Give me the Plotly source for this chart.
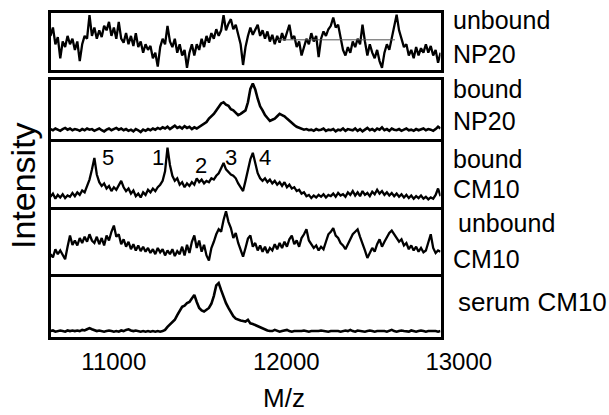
import numpy as np
import plotly.graph_objects as go

# ---------------- data (intensities, 0-100 per panel) ----------------
MZ_START = 10633
MZ_END = 12894

unbound_np20 = [60, 75, 45, 58, 20, 50, 40, 60, 45, 55, 35, 50, 15, 45, 60, 55, 97, 60, 75, 55,
                70, 58, 78, 70, 85, 60, 75, 55, 85, 55, 48, 65, 45, 60, 42, 65, 40, 50, 30, 45,
                35, 42, 20, 30, 5, 40, 55, 45, 78, 50, 40, 55, 30, 45, 25, 35, 3, 30, 45, 25,
                45, 35, 55, 40, 60, 48, 65, 55, 72, 60, 70, 97, 70, 82, 90, 72, 80, 62, 45, 8,
                40, 60, 75, 62, 72, 80, 60, 70, 55, 68, 50, 62, 45, 60, 48, 65, 52, 68, 80, 55,
                60, 40, 50, 25, 40, 55, 45, 65, 50, 60, 22, 55, 68, 60, 72, 78, 93, 75, 80, 55,
                35, 25, 40, 30, 50, 40, 55, 45, 80, 50, 25, 45, 30, 20, 35, 15, 3, 30, 45, 35,
                55, 80, 98, 70, 55, 40, 45, 25, 35, 20, 40, 25, 38, 30, 45, 30, 42, 25, 35, 12, 30]

bound_np20 = [16, 14, 17, 15, 13, 16, 18, 15, 17, 14, 16, 15, 13, 16, 14, 17, 15, 16, 13, 15,
              17, 14, 12, 15, 17, 14, 16, 18, 15, 17, 14, 16, 13, 15, 12, 16, 14, 11, 15, 13,
              16, 14, 17, 15, 18, 16, 19, 17, 20, 16, 19, 22, 18, 20, 17, 21, 18, 20, 16, 19,
              17, 20, 22, 26, 28, 34, 38, 42, 48, 54, 60, 62, 58, 56, 50, 48, 44, 40, 42, 45,
              48, 62, 85, 94, 84, 68, 55, 48, 40, 35, 30, 32, 34, 38, 42, 40, 38, 34, 30, 27,
              23, 20, 18, 16, 15, 16, 14, 15, 13, 16, 14, 15, 17, 13, 15, 14, 16, 12, 15, 14,
              17, 13, 16, 15, 14, 17, 13, 16, 12, 15, 18, 14, 16, 13, 17, 15, 19, 14, 16, 13,
              17, 15, 14, 16, 13, 15, 17, 14, 15, 13, 16, 14, 15, 17, 14, 16, 15, 13, 16, 20, 17]

bound_cm10 = [15, 20, 12, 18, 14, 19, 13, 17, 15, 21, 16, 22, 18, 25, 22, 32, 42, 58, 76, 50,
              38, 32, 36, 28, 32, 24, 30, 26, 34, 40, 30, 24, 28, 20, 25, 16, 20, 14, 22, 18,
              26, 22, 28, 24, 30, 34, 40, 55, 92, 65, 48, 40, 44, 34, 38, 30, 36, 32, 38, 34,
              44, 38, 42, 36, 40, 38, 44, 42, 48, 52, 60, 68, 58, 54, 50, 48, 44, 36, 30, 24,
              40, 58, 74, 84, 70, 52, 44, 40, 44, 38, 42, 36, 40, 34, 38, 32, 38, 30, 34, 28,
              30, 24, 26, 20, 22, 16, 18, 13, 17, 14, 18, 15, 19, 14, 18, 16, 20, 15, 21, 17,
              19, 15, 22, 18, 24, 17, 22, 16, 24, 18, 21, 16, 23, 19, 26, 20, 24, 18, 22, 17,
              21, 16, 20, 15, 19, 14, 18, 13, 17, 12, 16, 13, 17, 12, 15, 11, 14, 12, 18, 28, 16]

unbound_cm10 = [30, 25, 38, 30, 36, 28, 22, 42, 60, 45, 52, 44, 56, 48, 58, 50, 62, 52, 48, 58,
                46, 56, 44, 60, 52, 66, 76, 58, 62, 46, 54, 42, 50, 38, 46, 36, 44, 35, 42, 34,
                40, 32, 38, 30, 40, 33, 38, 28, 36, 30, 38, 27, 35, 30, 42, 28, 45, 32, 50, 60,
                40, 52, 34, 45, 28, 20, 40, 50, 62, 70, 66, 85, 99, 82, 72, 56, 64, 48, 36, 26,
                40, 55, 60, 42, 48, 36, 44, 34, 42, 32, 40, 36, 46, 38, 48, 40, 50, 42, 54, 60,
                46, 52, 42, 56, 62, 70, 52, 46, 40, 44, 36, 42, 38, 50, 62, 66, 72, 60, 56, 48,
                44, 38, 46, 56, 62, 66, 70, 58, 48, 36, 24, 32, 40, 34, 46, 54, 42, 50, 58, 64,
                68, 62, 56, 50, 54, 44, 48, 38, 44, 36, 42, 34, 40, 33, 36, 48, 62, 40, 32, 36, 34]

serum_cm10 = [9, 10, 8, 9, 10, 9, 8, 10, 9, 10, 9, 10, 9, 11, 10, 12, 14, 12, 10, 9,
              10, 9, 8, 9, 10, 9, 8, 9, 8, 10, 9, 11, 12, 10, 9, 10, 9, 8, 9, 8,
              9, 8, 9, 8, 9, 8, 9, 11, 16, 20, 24, 28, 36, 44, 50, 52, 56, 58, 64, 70,
              58, 48, 44, 42, 45, 48, 55, 68, 86, 90, 78, 66, 56, 48, 40, 34, 30, 28, 27, 26,
              25, 28, 22, 21, 19, 17, 15, 14, 12, 10, 9, 9, 11, 9, 8, 9, 10, 11, 9, 8,
              9, 9, 8, 9, 10, 9, 8, 9, 9, 8, 9, 10, 9, 9, 8, 9, 9, 10, 9, 8,
              9, 10, 9, 11, 9, 8, 10, 9, 9, 8, 9, 10, 9, 8, 9, 9, 10, 9, 8, 9,
              11, 9, 8, 9, 10, 9, 9, 8, 10, 9, 8, 9, 10, 9, 8, 9, 9, 10, 9, 8, 9]

panel_series = [unbound_np20, bound_np20, bound_cm10, unbound_cm10, serum_cm10]
panel_labels = [["unbound", "NP20"], ["bound", "NP20"], ["bound", "CM10"],
                ["unbound", "CM10"], ["serum CM10"]]
peak_names = ["5", "1", "2", "3", "4"]
peak_mz = [10966, 11256, 11506, 11679, 11876]
tick_values = [11000, 12000, 13000]
tick_text = ["11000", "12000", "13000"]

# ---------------- layout geometry (pixels) ----------------
W, H = 609, 415
X0, X1 = 50.5, 440.5
panels_px = [(13, 70), (79.5, 139), (142, 207), (210, 273.5), (276.5, 337)]
FONT = "Liberation Sans, Arial, sans-serif"
LW = 2.6


def px_x(p):
    return p / W


def px_y(p):
    return 1 - p / H


fig = go.Figure()
line_widths = [2.3, 2.6, 2.3, 2.3, 2.6]
for k, vals in enumerate(panel_series, start=1):
    mz = np.linspace(MZ_START, MZ_END, len(vals))
    fig.add_trace(go.Scatter(x=mz, y=vals, mode="lines",
                             line=dict(color="black", width=line_widths[k - 1]),
                             xaxis=f"x{k}", yaxis=f"y{k}", showlegend=False,
                             hoverinfo="skip"))

# invisible trace carrying the shared tick axis
fig.add_trace(go.Scatter(x=[11000, 13000], y=[-50, -50], mode="lines", opacity=0,
                         xaxis="x6", yaxis="y5", showlegend=False, hoverinfo="skip"))

layout = dict(width=W, height=H, margin=dict(l=0, r=0, t=0, b=0),
              paper_bgcolor="white", plot_bgcolor="rgba(0,0,0,0)",
              font=dict(family=FONT, color="black"))
for k, (top, bot) in enumerate(panels_px, start=1):
    layout[f"xaxis{k}"] = dict(domain=[px_x(X0), px_x(X1)], range=[MZ_START, MZ_END],
                               anchor=f"y{k}", showline=True, mirror=True, linewidth=LW,
                               linecolor="black", showticklabels=False, ticks="",
                               showgrid=False, zeroline=False, fixedrange=True)
    layout[f"yaxis{k}"] = dict(domain=[px_y(bot), px_y(top)], range=[-1, 101],
                               anchor=f"x{k}", showline=True, mirror=True, linewidth=LW,
                               linecolor="black", showticklabels=False, ticks="",
                               showgrid=False, zeroline=False, fixedrange=True)

# tick axis with the same scale as the panels, extended to show 13000
scale = (MZ_END - MZ_START) / (X1 - X0)
X_TICK_END = 505
layout["xaxis6"] = dict(domain=[px_x(X0), px_x(X_TICK_END)],
                        range=[MZ_START, MZ_END + (X_TICK_END - X1) * scale],
                        anchor="y5", showline=False, showgrid=False, zeroline=False,
                        tickvals=tick_values, ticktext=tick_text, ticks="outside",
                        ticklen=3, tickcolor="rgba(0,0,0,0)",
                        tickfont=dict(size=24, family=FONT, color="black"),
                        fixedrange=True)
fig.update_layout(**layout)

annotations = []
# right-hand labels
label_pos = [[(453, 19.5), (453, 54)], [(453, 88.5), (453, 121)], [(453, 158.5), (453, 189)],
             [(458, 222.5), (453, 259)], [(458, 302)]]
for texts, poss in zip(panel_labels, label_pos):
    for t, (lx, ly) in zip(texts, poss):
        annotations.append(dict(text=t, x=px_x(lx - 2), y=px_y(ly), xref="paper", yref="paper",
                                xanchor="left", yanchor="middle", showarrow=False,
                                font=dict(size=26 if t == "serum CM10" else 25,
                                          family=FONT, color="black")))
# peak labels in the bound CM10 panel
peak_y = [157, 157, 165, 157, 157]
for name, mzv, py in zip(peak_names, peak_mz, peak_y):
    annotations.append(dict(text=name, x=mzv, xref="x3", y=px_y(py), yref="paper",
                            xanchor="center", yanchor="middle", showarrow=False,
                            font=dict(size=22, family=FONT, color="black")))
# axis titles
annotations.append(dict(text="Intensity", x=px_x(23), y=px_y(186), xref="paper", yref="paper",
                        xanchor="center", yanchor="middle", textangle=-90, showarrow=False,
                        font=dict(size=34, family=FONT, color="black")))
annotations.append(dict(text="M/z", x=px_x(284), y=px_y(398), xref="paper", yref="paper",
                        xanchor="center", yanchor="middle", showarrow=False,
                        font=dict(size=26, family=FONT, color="black")))
fig.update_layout(annotations=annotations)

# faint horizontal line seen in the top panel
fig.add_shape(type="line", xref="x1", yref="y1", x0=11952, x1=12630, y0=53, y1=53,
              line=dict(color="#555555", width=1))

fig.write_html("out.html")
